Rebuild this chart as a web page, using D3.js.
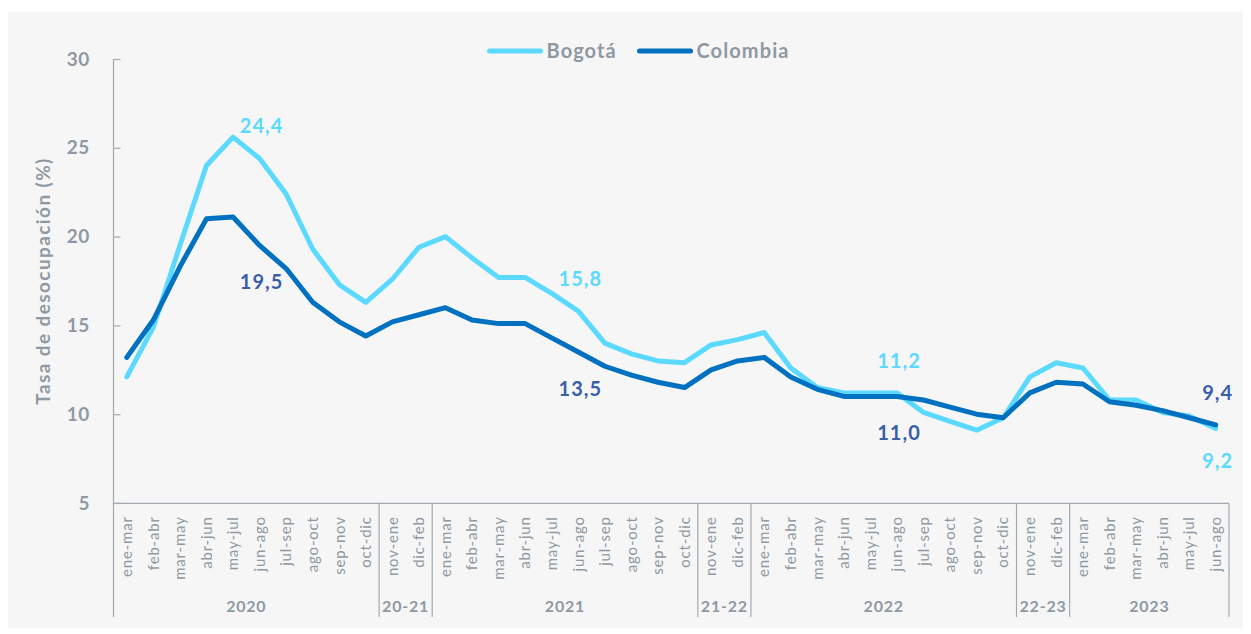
<!DOCTYPE html>
<html>
<head>
<meta charset="utf-8">
<script src="https://cdn.jsdelivr.net/npm/d3@7/dist/d3.min.js"></script>
<style>
  html, body { margin: 0; padding: 0; background: #ffffff; }
  svg { display: block; font-family: Lato, "Open Sans", sans-serif; }
</style>
</head>
<body>
<svg id="chart" width="1251" height="634"></svg>
<script>
// ---- data ----
const periods = [
  "ene-mar","feb-abr","mar-may","abr-jun","may-jul","jun-ago","jul-sep","ago-oct","sep-nov","oct-dic",
  "nov-ene","dic-feb",
  "ene-mar","feb-abr","mar-may","abr-jun","may-jul","jun-ago","jul-sep","ago-oct","sep-nov","oct-dic",
  "nov-ene","dic-feb",
  "ene-mar","feb-abr","mar-may","abr-jun","may-jul","jun-ago","jul-sep","ago-oct","sep-nov","oct-dic",
  "nov-ene","dic-feb",
  "ene-mar","feb-abr","mar-may","abr-jun","may-jul","jun-ago"
];
const groupNames = ["2020","20-21","2021","21-22","2022","22-23","2023"];
const groupSizes = [10, 2, 10, 2, 10, 2, 6];

const bogota = [
  12.1,14.9,19.5,24.0,25.6,24.4,22.4,19.3,17.3,16.3,
  17.6,19.4,
  20.0,18.8,17.7,17.7,16.8,15.8,14.0,13.4,13.0,12.9,
  13.9,14.2,
  14.6,12.6,11.5,11.2,11.2,11.2,10.1,9.6,9.1,9.8,
  12.1,12.9,
  12.6,10.8,10.8,10.1,9.9,9.2
];
const colombia = [
  13.2,15.3,18.3,21.0,21.1,19.5,18.2,16.3,15.2,14.4,
  15.2,15.6,
  16.0,15.3,15.1,15.1,14.3,13.5,12.7,12.2,11.8,11.5,
  12.5,13.0,
  13.2,12.1,11.4,11.0,11.0,11.0,10.8,10.4,10.0,9.8,
  11.2,11.8,
  11.7,10.7,10.5,10.2,9.8,9.4
];
const yTicks = [5, 10, 15, 20, 25, 30];
const labelIdx = [5, 17, 29, 41];          // points carrying a value label
const bogotaLabelAbove = [true, true, true, false];

const seriesNames = ["Bogotá", "Colombia"];
const seriesColors = ["#5cd9ff", "#0070c0"];
const labelColors = ["#5cd9ff", "#3a5ea8"];
const gray = "#8f99a3";
const axisGray = "#a3a9b0";

// ---- layout ----
const svg = d3.select("#chart");
svg.append("rect").attr("x", 8).attr("y", 12).attr("width", 1235).attr("height", 616).attr("fill", "#f6f6f6");

const idx = d3.range(periods.length);
const x = d3.scaleBand().domain(idx).range([113.5, 1229]).padding(0);
const cx = i => x(i) + x.bandwidth() / 2;
const y = d3.scaleLinear().domain([5, 30]).range([503, 59]);

// y axis
const yAxis = svg.append("g").attr("transform", "translate(113.5,0)")
  .call(d3.axisRight(y).tickValues(yTicks).tickSize(7).tickFormat(""));
yAxis.select(".domain").remove();
yAxis.selectAll(".tick line").attr("stroke", axisGray).attr("stroke-width", 1.2);
svg.append("line").attr("x1", 113.5).attr("x2", 113.5).attr("y1", 59).attr("y2", 617)
  .attr("stroke", axisGray).attr("stroke-width", 1.2);
svg.append("g").selectAll("text").data(yTicks).join("text")
  .attr("x", 90).attr("y", d => y(d)).attr("dy", "0.35em")
  .attr("text-anchor", "end").attr("font-size", 19).attr("font-weight", 700)
  .attr("letter-spacing", 0.6)
  .attr("fill", gray).text(d => d);

svg.append("text")
  .attr("transform", "translate(50,281) rotate(-90)")
  .attr("text-anchor", "middle").attr("font-size", 19).attr("font-weight", 700)
  .attr("letter-spacing", 1.4)
  .attr("fill", gray).text("Tasa de desocupación (%)");

// x axis baseline
svg.append("line").attr("x1", 113.5).attr("x2", 1229).attr("y1", 503.3).attr("y2", 503.3)
  .attr("stroke", axisGray).attr("stroke-width", 1.2);

// x tick labels (rotated)
const xAxis = svg.append("g").attr("transform", "translate(0,503.3)")
  .call(d3.axisBottom(x).tickSize(0).tickFormat(i => periods[i]));
xAxis.select(".domain").remove();
xAxis.selectAll(".tick text")
  .attr("transform", "rotate(-90)")
  .attr("x", -13).attr("y", 0).attr("dy", "0.35em")
  .attr("text-anchor", "end")
  .attr("font-size", 15).attr("font-family", "Lato, sans-serif")
  .attr("letter-spacing", 0.8)
  .attr("fill", gray);

// group separators and group labels
let start = 0;
const bounds = [0];
groupSizes.forEach(s => { start += s; bounds.push(start); });
svg.append("g").selectAll("line").data(bounds.slice(1)).join("line")
  .attr("x1", b => b < periods.length ? x(b) : x(b - 1) + x.bandwidth())
  .attr("x2", b => b < periods.length ? x(b) : x(b - 1) + x.bandwidth())
  .attr("y1", 503.3).attr("y2", 617)
  .attr("stroke", axisGray).attr("stroke-width", 1.2);
svg.append("g").selectAll("text").data(groupNames).join("text")
  .attr("x", (g, k) => (x(bounds[k]) + x(bounds[k + 1] - 1) + x.bandwidth()) / 2)
  .attr("y", 606).attr("dy", "0.35em")
  .attr("text-anchor", "middle").attr("font-size", 16).attr("font-weight", 700)
  .attr("letter-spacing", 0.8)
  .attr("fill", gray).text(g => g);

// lines
const line = d3.line().x((d, i) => cx(i)).y(d => y(d));
[bogota, colombia].forEach((vals, s) => {
  svg.append("path").datum(vals)
    .attr("d", line)
    .attr("fill", "none")
    .attr("stroke", seriesColors[s])
    .attr("stroke-width", 5)
    .attr("stroke-linejoin", "round")
    .attr("stroke-linecap", "round");
});

// value labels
const fmt = v => v.toFixed(1).replace(".", ",");
labelIdx.forEach((i, k) => {
  const above = bogotaLabelAbove[k];
  svg.append("text")
    .attr("x", cx(i) + 2).attr("y", y(bogota[i]) + (above ? -32 : 33)).attr("dy", "0.35em")
    .attr("text-anchor", "middle").attr("font-size", 20).attr("font-weight", 700)
    .attr("letter-spacing", 1)
    .attr("fill", labelColors[0]).text(fmt(bogota[i]));
  svg.append("text")
    .attr("x", cx(i) + 2).attr("y", y(colombia[i]) + (above ? 37 : -32)).attr("dy", "0.35em")
    .attr("text-anchor", "middle").attr("font-size", 20).attr("font-weight", 700)
    .attr("letter-spacing", 1)
    .attr("fill", labelColors[1]).text(fmt(colombia[i]));
});

// legend
const legend = svg.append("g");
const legendX = [489.5, 639.5];
seriesNames.forEach((n, s) => {
  legend.append("line")
    .attr("x1", legendX[s]).attr("x2", legendX[s] + 51).attr("y1", 51).attr("y2", 51)
    .attr("stroke", seriesColors[s]).attr("stroke-width", 5).attr("stroke-linecap", "round");
  legend.append("text")
    .attr("x", legendX[s] + 57).attr("y", 51).attr("dy", "0.35em")
    .attr("font-size", 20).attr("font-weight", 700).attr("letter-spacing", 1.1)
    .attr("fill", gray).text(n);
});
</script>
</body>
</html>
